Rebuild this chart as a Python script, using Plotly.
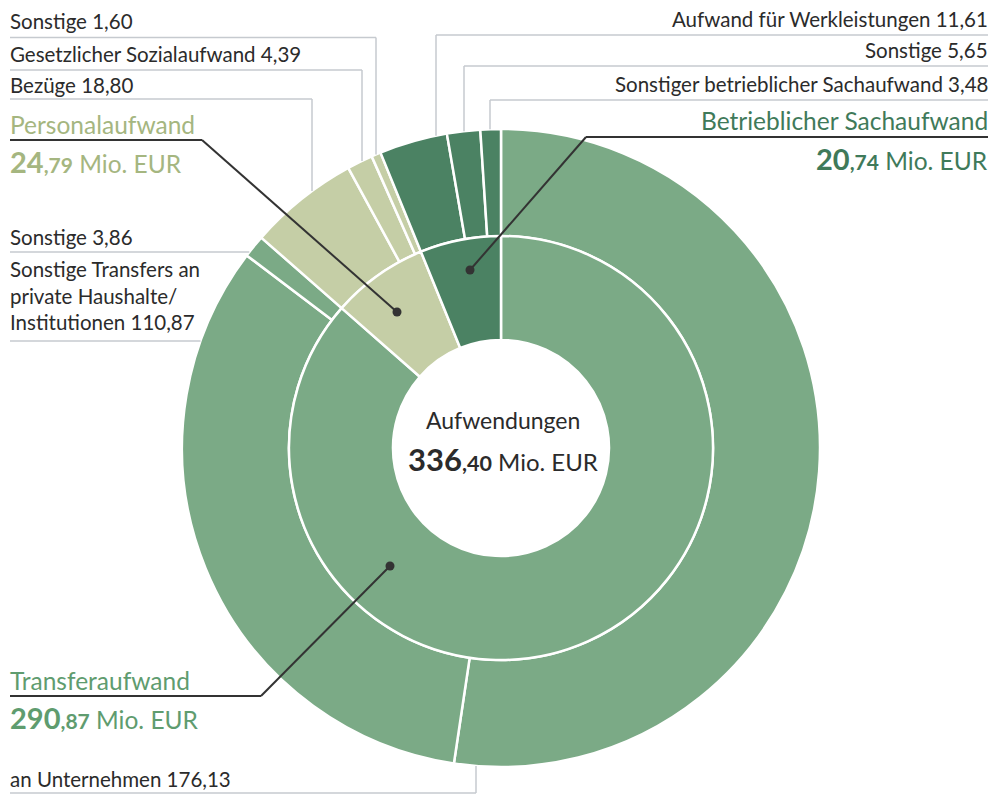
import math
import plotly.graph_objects as go

W, H = 998, 794

# ---------------- data ----------------
total_label = "Aufwendungen"
total_value = "336,40"

cat_names = ["Transferaufwand", "Personalaufwand", "Betrieblicher Sachaufwand"]
cat_values = [290.87, 24.79, 20.74]
cat_value_text = ["290,87", "24,79", "20,74"]

sub_names = ["an Unternehmen", "Sonstige Transfers an private Haushalte/ Institutionen", "Sonstige",
             "Bezüge", "Gesetzlicher Sozialaufwand", "Sonstige",
             "Aufwand für Werkleistungen", "Sonstige", "Sonstiger betrieblicher Sachaufwand"]
sub_values = [176.13, 110.87, 3.86, 18.80, 4.39, 1.60, 11.61, 5.65, 3.48]
sub_value_text = ["176,13", "110,87", "3,86", "18,80", "4,39", "1,60", "11,61", "5,65", "3,48"]
sub_parent = [0, 0, 0, 1, 1, 1, 2, 2, 2]

# ---------------- styles ----------------
cat_colors = ["#7baa86", "#c5cea6", "#4b8263"]
cat_text_colors = ["#5f9c6f", "#a5b680", "#3f7a5a"]
FONT = "Lato"
TXT = "#2b2b2b"
GRAY = "#c6cacf"
DARK = "#333333"

CX, CY = 501, 448
R_OUT, R_MID, R_IN = 319, 212, 108


def px(x):
    return x / W


def py(y):
    return 1 - y / H


fig = go.Figure()

# outer ring
fig.add_trace(go.Pie(
    values=sub_values,
    labels=[f"o{i}" for i in range(len(sub_values))],
    text=[f"{n} {v}" for n, v in zip(sub_names, sub_value_text)],
    hoverinfo="text",
    textinfo="none",
    sort=False, direction="clockwise", rotation=0,
    hole=R_MID / R_OUT,
    marker=dict(colors=[cat_colors[p] for p in sub_parent], line=dict(color="white", width=2.5)),
    domain=dict(x=[px(CX - R_OUT), px(CX + R_OUT)], y=[py(CY + R_OUT), py(CY - R_OUT)]),
    showlegend=False,
))
# inner ring
fig.add_trace(go.Pie(
    values=cat_values,
    labels=[f"i{i}" for i in range(len(cat_values))],
    text=[f"{n} {v}" for n, v in zip(cat_names, cat_value_text)],
    hoverinfo="text",
    textinfo="none",
    sort=False, direction="clockwise", rotation=0,
    hole=R_IN / R_MID,
    marker=dict(colors=cat_colors, line=dict(color="white", width=2.5)),
    domain=dict(x=[px(CX - R_MID), px(CX + R_MID)], y=[py(CY + R_MID), py(CY - R_MID)]),
    showlegend=False,
))

shapes = []
annotations = []


def line(points, color, width):
    for (x0, y0), (x1, y1) in zip(points[:-1], points[1:]):
        shapes.append(dict(type="line", xref="paper", yref="paper",
                           x0=px(x0), y0=py(y0), x1=px(x1), y1=py(y1),
                           line=dict(color=color, width=width)))


def ring_top_y(x):
    return CY - math.sqrt(R_OUT ** 2 - (x - CX) ** 2)


def ring_left_x(y):
    return CX - math.sqrt(R_OUT ** 2 - (y - CY) ** 2)


def ring_bottom_y(x):
    return CY + math.sqrt(R_OUT ** 2 - (x - CX) ** 2)


def text(x, y, s, size, color=TXT, anchor="left"):
    annotations.append(dict(xref="paper", yref="paper", x=px(x), y=py(y), text=s,
                            showarrow=False, xanchor=anchor, yanchor="middle",
                            font=dict(family=FONT, size=size, color=color)))


LBL = 20.5

# ---- left top: Personalaufwand children ----
for idx, ty, ly, vx in [(5, 21, 37.5, 376), (4, 54, 70, 362), (3, 85, 99, 312)]:
    text(8, ty, f"{sub_names[idx]} {sub_value_text[idx]}", LBL)
    line([(10, ly), (vx, ly), (vx, ring_top_y(vx))], GRAY, 1.5)

# ---- right top: Betrieblicher Sachaufwand children ----
for idx, ty, ly, vx in [(6, 19, 35, 436), (7, 50, 66, 464), (8, 84, 100, 490)]:
    text(990, ty, f"{sub_names[idx]} {sub_value_text[idx]}", LBL, anchor="right")
    line([(vx, ring_top_y(vx)), (vx, ly), (988, ly)], GRAY, 1.5)

# ---- left middle: Transfer children ----
text(8, 237, f"{sub_names[2]} {sub_value_text[2]}", LBL)
line([(10, 252), (ring_left_x(252), 252)], GRAY, 1.5)
annotations.append(dict(xref="paper", yref="paper", x=px(8), y=py(336), xanchor="left", yanchor="bottom",
                        align="left", showarrow=False,
                        text="Sonstige Transfers an<br>private Haushalte/<br>Institutionen " + sub_value_text[1],
                        font=dict(family=FONT, size=LBL, color=TXT)))
line([(10, 341), (ring_left_x(341), 341)], GRAY, 1.5)

# ---- bottom: an Unternehmen ----
text(8, 779, f"{sub_names[0]} {sub_value_text[0]}", LBL)
line([(10, 793), (476, 793), (476, ring_bottom_y(476))], GRAY, 1.5)


def big_value(v, small=21, unit=24.5):
    a, b = v.split(",")
    return (f"<b>{a}</b><span style='font-size:{small}px'><b>,{b}</b></span>"
            f"<span style='font-size:{unit}px'> Mio. EUR</span>")


CAT = 24.5
BIG = 29
# ---- category labels ----
# Personalaufwand
text(8, 124, cat_names[1], CAT, cat_text_colors[1])
text(8, 161, big_value(cat_value_text[1]), BIG, cat_text_colors[1])
line([(10, 140), (202, 140), (397, 312)], DARK, 2)
# Betrieblicher Sachaufwand
text(990, 120, cat_names[2], CAT, cat_text_colors[2], anchor="right")
text(990, 158, big_value(cat_value_text[2]), BIG, cat_text_colors[2], anchor="right")
line([(988, 137), (586, 137), (470, 270)], DARK, 2)
# Transferaufwand
text(8, 680, cat_names[0], CAT, cat_text_colors[0])
text(8, 717, big_value(cat_value_text[0]), BIG, cat_text_colors[0])
line([(10, 696), (261, 696), (390, 566)], DARK, 2)

# dots
for (x, y) in [(397, 312), (470, 270), (390, 566)]:
    shapes.append(dict(type="circle", xref="paper", yref="paper",
                       x0=px(x - 4.5), x1=px(x + 4.5), y0=py(y + 4.5), y1=py(y - 4.5),
                       fillcolor=DARK, line=dict(width=0)))

# centre
text(503, 420, total_label, 23, TXT, anchor="center")
text(503, 459, big_value(total_value, small=21.5, unit=24), 31, TXT, anchor="center")

fig.update_layout(
    width=W, height=H,
    margin=dict(l=0, r=0, t=0, b=0),
    paper_bgcolor="white", plot_bgcolor="white",
    shapes=shapes, annotations=annotations,
    showlegend=False,
)

fig.write_html("out.html", config={"displayModeBar": False},
               post_script="document.body.style.margin='0';")
